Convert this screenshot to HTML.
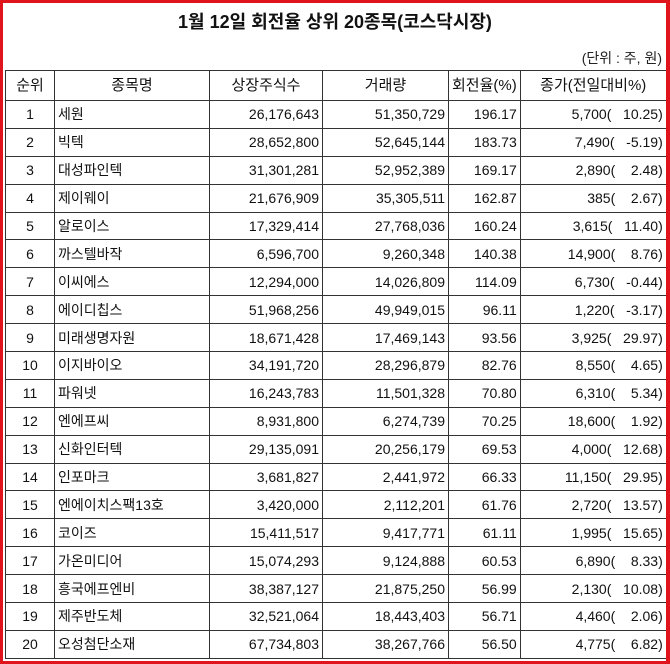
<!DOCTYPE html>
<html><head><meta charset="utf-8"><style>
body{margin:0;background:#fff;}
.wrap{position:absolute;left:0;top:0;width:670px;height:664px;box-sizing:border-box;border:3px solid #e0141c;border-right-width:4px;}
.title{position:absolute;left:0;top:8px;width:670px;text-align:center;font:bold 18px "Liberation Sans","Noto Sans CJK KR",sans-serif;color:#111;}
.unit{position:absolute;right:8px;top:48px;font:14px "Liberation Sans","Noto Sans CJK KR",sans-serif;color:#222;}
table{position:absolute;left:5px;top:70px;border-collapse:collapse;font:14px "Liberation Sans","Noto Sans CJK KR",sans-serif;color:#111;table-layout:fixed;}
td{border:1px solid #333;height:26.9px;padding:0 3px;white-space:pre;overflow:hidden;line-height:20px;}
tr.h td{height:29px;text-align:center;font-size:15px;}
td.c{text-align:center}td.r{text-align:right}
</style></head><body>
<div class="title">1월 12일 회전율 상위 20종목(코스닥시장)</div>
<div class="unit">(단위 : 주, 원)</div>
<table>
<colgroup><col style="width:49px"><col style="width:155px"><col style="width:113px"><col style="width:126px"><col style="width:71px"><col style="width:146px"></colgroup>
<tr class="h"><td>순위</td><td>종목명</td><td>상장주식수</td><td>거래량</td><td>회전율(%)</td><td>종가(전일대비%)</td></tr>
<tr><td class="c">1</td><td>세원</td><td class="r">26,176,643</td><td class="r">51,350,729</td><td class="r">196.17</td><td class="r">5,700(   10.25)</td></tr>
<tr><td class="c">2</td><td>빅텍</td><td class="r">28,652,800</td><td class="r">52,645,144</td><td class="r">183.73</td><td class="r">7,490(   -5.19)</td></tr>
<tr><td class="c">3</td><td>대성파인텍</td><td class="r">31,301,281</td><td class="r">52,952,389</td><td class="r">169.17</td><td class="r">2,890(    2.48)</td></tr>
<tr><td class="c">4</td><td>제이웨이</td><td class="r">21,676,909</td><td class="r">35,305,511</td><td class="r">162.87</td><td class="r">385(    2.67)</td></tr>
<tr><td class="c">5</td><td>알로이스</td><td class="r">17,329,414</td><td class="r">27,768,036</td><td class="r">160.24</td><td class="r">3,615(   11.40)</td></tr>
<tr><td class="c">6</td><td>까스텔바작</td><td class="r">6,596,700</td><td class="r">9,260,348</td><td class="r">140.38</td><td class="r">14,900(    8.76)</td></tr>
<tr><td class="c">7</td><td>이씨에스</td><td class="r">12,294,000</td><td class="r">14,026,809</td><td class="r">114.09</td><td class="r">6,730(   -0.44)</td></tr>
<tr><td class="c">8</td><td>에이디칩스</td><td class="r">51,968,256</td><td class="r">49,949,015</td><td class="r">96.11</td><td class="r">1,220(   -3.17)</td></tr>
<tr><td class="c">9</td><td>미래생명자원</td><td class="r">18,671,428</td><td class="r">17,469,143</td><td class="r">93.56</td><td class="r">3,925(   29.97)</td></tr>
<tr><td class="c">10</td><td>이지바이오</td><td class="r">34,191,720</td><td class="r">28,296,879</td><td class="r">82.76</td><td class="r">8,550(    4.65)</td></tr>
<tr><td class="c">11</td><td>파워넷</td><td class="r">16,243,783</td><td class="r">11,501,328</td><td class="r">70.80</td><td class="r">6,310(    5.34)</td></tr>
<tr><td class="c">12</td><td>엔에프씨</td><td class="r">8,931,800</td><td class="r">6,274,739</td><td class="r">70.25</td><td class="r">18,600(    1.92)</td></tr>
<tr><td class="c">13</td><td>신화인터텍</td><td class="r">29,135,091</td><td class="r">20,256,179</td><td class="r">69.53</td><td class="r">4,000(   12.68)</td></tr>
<tr><td class="c">14</td><td>인포마크</td><td class="r">3,681,827</td><td class="r">2,441,972</td><td class="r">66.33</td><td class="r">11,150(   29.95)</td></tr>
<tr><td class="c">15</td><td>엔에이치스팩13호</td><td class="r">3,420,000</td><td class="r">2,112,201</td><td class="r">61.76</td><td class="r">2,720(   13.57)</td></tr>
<tr><td class="c">16</td><td>코이즈</td><td class="r">15,411,517</td><td class="r">9,417,771</td><td class="r">61.11</td><td class="r">1,995(   15.65)</td></tr>
<tr><td class="c">17</td><td>가온미디어</td><td class="r">15,074,293</td><td class="r">9,124,888</td><td class="r">60.53</td><td class="r">6,890(    8.33)</td></tr>
<tr><td class="c">18</td><td>흥국에프엔비</td><td class="r">38,387,127</td><td class="r">21,875,250</td><td class="r">56.99</td><td class="r">2,130(   10.08)</td></tr>
<tr><td class="c">19</td><td>제주반도체</td><td class="r">32,521,064</td><td class="r">18,443,403</td><td class="r">56.71</td><td class="r">4,460(    2.06)</td></tr>
<tr><td class="c">20</td><td>오성첨단소재</td><td class="r">67,734,803</td><td class="r">38,267,766</td><td class="r">56.50</td><td class="r">4,775(    6.82)</td></tr>
</table>
<div class="wrap"></div>
</body></html>
